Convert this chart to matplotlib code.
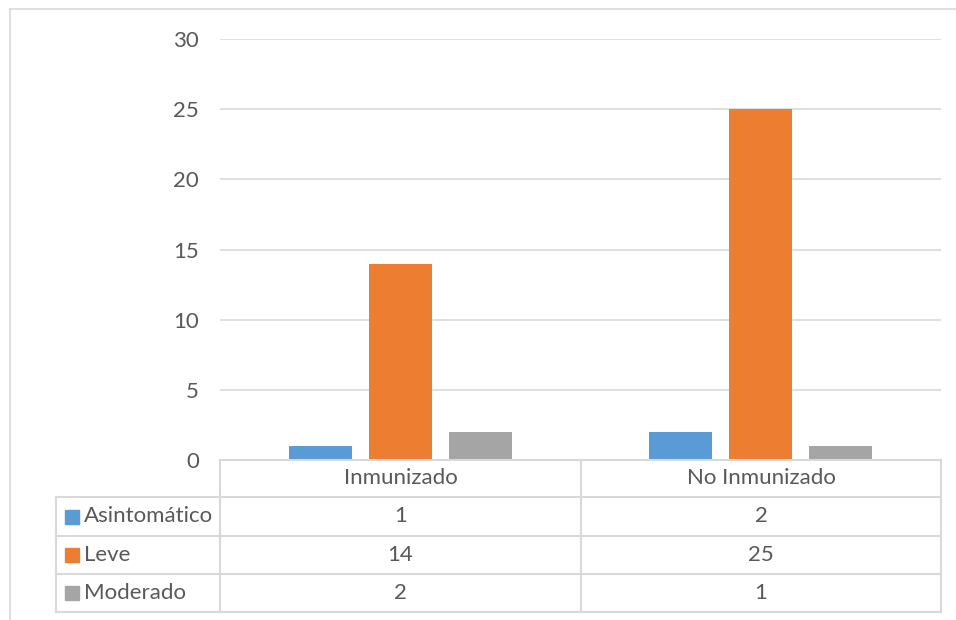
import matplotlib
matplotlib.use("Agg")
import matplotlib.pyplot as plt
from matplotlib.lines import Line2D
from matplotlib.patches import Rectangle

categories = ["Inmunizado", "No Inmunizado"]
series_names = ["Asintomático", "Leve", "Moderado"]
asintomatico = [1, 2]
leve = [14, 25]
moderado = [2, 1]
series_values = [asintomatico, leve, moderado]
colors = ["#5B9BD5", "#ED7D31", "#A5A5A5"]
yticks = [0, 5, 10, 15, 20, 25, 30]

W, H = 956, 620
plt.rcParams['font.family'] = ['Lato', 'DejaVu Sans']
TXT = "#595959"
GRID = "#D9D9D9"
FS = 16

fig = plt.figure(figsize=(W / 100, H / 100), dpi=100)

def fx(x):
    return x / W

def fy(y):
    return 1 - y / H

ax = fig.add_axes([fx(220), fy(460), (941 - 220) / W, (460 - 39) / H])
ax.set_xlim(-0.5, 1.5)
ax.set_ylim(0, 30)
bw = 0.175
step = 0.222
for j, vals in enumerate(series_values):
    xs = [i + (j - 1) * step for i in range(len(categories))]
    ax.bar(xs, vals, width=bw, color=colors[j], zorder=3)
ax.set_yticks(yticks)
ax.set_yticklabels([str(t) for t in yticks], fontsize=FS, color=TXT)
ax.set_xticks([])
ax.grid(axis='y', color=GRID, linewidth=1.2, zorder=0)
for s in ax.spines.values():
    s.set_visible(False)
ax.tick_params(axis='y', length=0, pad=15)

def hline(y, x0, x1, lw=1.5):
    fig.add_artist(Line2D([fx(x0), fx(x1)], [fy(y), fy(y)], color=GRID, lw=lw))

def vline(x, y0, y1, lw=1.5):
    fig.add_artist(Line2D([fx(x), fx(x)], [fy(y0), fy(y1)], color=GRID, lw=lw))

# outer border
hline(9, 10, 956, lw=1.2)
vline(10, 9, 620, lw=1.2)

# table
rows_y = [460, 497, 536, 574, 612]
col_x = [56, 220, 581, 941]
hline(460, 220, 941)
for y in rows_y[1:]:
    hline(y, 56, 941)
vline(56, 497, 612)
for x in col_x[1:]:
    vline(x, 460, 612)

col_centers = [(col_x[1] + col_x[2]) / 2, (col_x[2] + col_x[3]) / 2]
for c, name in zip(col_centers, categories):
    fig.text(fx(c), fy((rows_y[0] + rows_y[1]) / 2), name, ha='center', va='center',
             fontsize=FS, color=TXT)

for r, (name, vals, col) in enumerate(zip(series_names, series_values, colors)):
    yc = (rows_y[r + 1] + rows_y[r + 2]) / 2
    fig.add_artist(Rectangle((fx(65), fy(yc + 7)), 14 / W, 14 / H, color=col,
                             transform=fig.transFigure))
    fig.text(fx(84), fy(yc), name, ha='left', va='center', fontsize=FS, color=TXT)
    for c, v in zip(col_centers, vals):
        fig.text(fx(c), fy(yc), str(v), ha='center', va='center', fontsize=FS, color=TXT)

fig.savefig("out.png", dpi=100)
